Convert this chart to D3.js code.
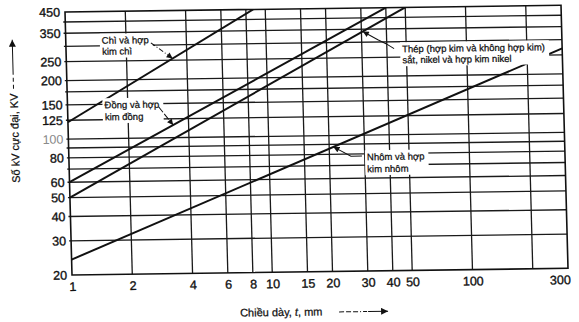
<!DOCTYPE html>
<html>
<head>
<meta charset="utf-8">
<script src="https://cdn.jsdelivr.net/npm/d3@7"></script>
<style>
  html, body { margin: 0; padding: 0; background: #fff; }
  svg { display: block; }
  text { stroke: #111; stroke-width: 0.25px; }
  .tick text { font-family: 'Liberation Sans Narrow', 'Arial Narrow', 'Liberation Sans', Arial, sans-serif; font-size: 12.5px; fill: #111; stroke-width: 0.35px; }
  .note { font-family: 'Liberation Sans', Arial, sans-serif; font-size: 9.5px; fill: #111; }
  .note.narrow { font-family: 'Liberation Sans Narrow', 'Arial Narrow', 'Liberation Sans', Arial, sans-serif; font-size: 9.5px; }
  .title { font-family: 'Liberation Sans', Arial, sans-serif; font-size: 11px; fill: #111; }
</style>
</head>
<body>
<svg id="chart" width="579" height="322"></svg>
<script>
// Plate thickness t (mm): labelled ticks and vertical grid rules
const thicknessTicks = [1, 2, 4, 6, 8, 10, 15, 20, 30, 40, 50, 100, 300];
const thicknessGrid  = [2, 4, 6, 8, 10, 15, 20, 30, 40, 50, 100, 200];

// Maximum tube voltage (kV): labelled ticks and horizontal grid rules
const kvTicks = [20, 30, 40, 50, 60, 80, 100, 125, 150, 200, 250, 350, 450];
const kvGrid  = [30, 40, 50, 60, 70, 80, 90, 100, 125, 150, 175, 200, 250, 300, 350, 400];

// Each material is a straight line on log-log paper: end points (t mm, kV)
const leadT     = [1, 8.7];  const leadKV     = [122, 450];
const copperT   = [1, 40];   const copperKV   = [60, 450];
const steelT    = [1, 50];   const steelKV    = [50, 450];
const aluminiumT = [1, 300]; const aluminiumKV = [24, 270];

const materials = [
  { name: "lead",      t: leadT,      kv: leadKV },
  { name: "copper",    t: copperT,    kv: copperKV },
  { name: "steel",     t: steelT,     kv: steelKV },
  { name: "aluminium", t: aluminiumT, kv: aluminiumKV }
];

const svg = d3.select("#chart");

const x = d3.scaleLog().domain([1, 300]).range([72, 568]);
const y = d3.scaleLog().domain([20, 450]).range([275, 12]);

// arrow heads
const defs = svg.append("defs");
defs.append("marker")
  .attr("id", "head").attr("viewBox", "0 0 10 10")
  .attr("refX", 10).attr("refY", 5)
  .attr("markerWidth", 7).attr("markerHeight", 6)
  .attr("markerUnits", "userSpaceOnUse")
  .attr("orient", "auto-start-reverse")
  .append("path").attr("d", "M0,0 L10,5 L0,10 Z").attr("fill", "#111");
defs.append("marker")
  .attr("id", "bighead").attr("viewBox", "0 0 10 10")
  .attr("refX", 10).attr("refY", 5)
  .attr("markerWidth", 10).attr("markerHeight", 7)
  .attr("markerUnits", "userSpaceOnUse")
  .attr("orient", "auto-start-reverse")
  .append("path").attr("d", "M0,0 L10,5 L0,10 Z").attr("fill", "#111");
defs.append("clipPath").attr("id", "plotClip")
  .append("rect")
  .attr("x", x(1)).attr("y", y(450))
  .attr("width", x(300) - x(1)).attr("height", y(20) - y(450));

// the printed plate sits slightly askew on the page
const plate = svg.append("g")
  .attr("transform", "matrix(1,-0.0135,0.0266,1,-7.315,0.972)");

// grid rules
const grid = plate.append("g").attr("stroke", "#1a1a1a").attr("stroke-width", 1.3);
grid.selectAll("line.v").data(thicknessGrid).join("line")
  .attr("class", "v")
  .attr("x1", d => x(d)).attr("x2", d => x(d))
  .attr("y1", y(20)).attr("y2", y(450));
grid.selectAll("line.h").data(kvGrid).join("line")
  .attr("class", "h")
  .attr("x1", x(1) - 2).attr("x2", x(300))
  .attr("y1", d => y(d)).attr("y2", d => y(d));
plate.append("rect")
  .attr("x", x(1)).attr("y", y(450))
  .attr("width", x(300) - x(1)).attr("height", y(20) - y(450))
  .attr("fill", "none").attr("stroke", "#111").attr("stroke-width", 1.6);

// axes (labels only; the frame is drawn above)
const xAxis = plate.append("g")
  .attr("transform", `translate(0,${y(20)})`)
  .call(d3.axisBottom(x).tickValues(thicknessTicks).tickFormat(d3.format("d"))
        .tickSize(0).tickPadding(7));
xAxis.select(".domain").remove();
xAxis.selectAll(".tick text").filter(d => d === 300)
  .attr("text-anchor", "end").attr("dx", 2);

const yAxis = plate.append("g")
  .attr("transform", `translate(${x(1)},0)`)
  .call(d3.axisLeft(y).tickValues(kvTicks).tickFormat(d3.format("d"))
        .tickSize(0).tickPadding(5));
yAxis.select(".domain").remove();
yAxis.selectAll(".tick text").filter(d => d === 100)
  .style("fill", "#8a8a8a").style("stroke", "none");

// material lines
const line = d3.line().x(d => x(d[0])).y(d => y(d[1]));
plate.append("g").attr("clip-path", "url(#plotClip)")
  .selectAll("path").data(materials).join("path")
  .attr("d", m => line(m.t.map((t, i) => [t, m.kv[i]])))
  .attr("fill", "none").attr("stroke", "#111").attr("stroke-width", 2);

// point on a material line at thickness t (straight in log-log space)
function pointOn(m, t) {
  const f = (Math.log(t) - Math.log(m.t[0])) / (Math.log(m.t[1]) - Math.log(m.t[0]));
  const kv = Math.exp(Math.log(m.kv[0]) + f * (Math.log(m.kv[1]) - Math.log(m.kv[0])));
  return [x(t), y(kv)];
}
const byName = Object.fromEntries(materials.map(m => [m.name, m]));

// labels with a white ground that interrupts the grid
const notes = plate.append("g");
function note(lines, x0, y0, cls, gap) {
  const g = notes.append("g");
  const txt = g.append("text").attr("class", cls);
  lines.forEach((s, i) => {
    txt.append("tspan").attr("x", x0).attr("y", y0 + i * gap).attr("dy", "0.35em").text(s);
  });
  const b = txt.node().getBBox();
  g.insert("rect", "text")
    .attr("x", b.x - 2).attr("y", b.y - 1)
    .attr("width", b.width + 6).attr("height", b.height + 2)
    .attr("fill", "#fff");
}
note(["Chì và hợp", "kim chì"], 108, 41, "note", 11);
note(["Đồng và hợp", "kim đồng"], 109, 105.5, "note", 12);
note(["Thép (hợp kim và không hợp kim)", "sắt, nikel và hợp kim nikel"], 408, 53.5, "note narrow", 11);
note(["Nhôm và hợp", "kim nhôm"], 370, 161, "note", 12);

// leaders
const leaders = plate.append("g").attr("fill", "none").attr("stroke", "#111").attr("stroke-width", 1);
const pLead = pointOn(byName.lead, 3.4);
leaders.append("path")
  .attr("d", `M157,44 L${pLead[0]},${pLead[1]}`)
  .attr("stroke-dasharray", "5,2,1,2")
  .attr("marker-end", "url(#head)");
const pCu = pointOn(byName.copper, 3.35);
leaders.append("path")
  .attr("d", `M163,108 L${pCu[0]},${pCu[1]}`)
  .attr("stroke-dasharray", "7,2")
  .attr("marker-end", "url(#head)");
const pFe = pointOn(byName.steel, 30.5);
leaders.append("path")
  .attr("d", `M${pFe[0]},${pFe[1]} L384,44 L392,48 L400,53`)
  .attr("marker-start", "url(#head)");
const pAl = pointOn(byName.aluminium, 21);
leaders.append("path")
  .attr("d", `M${pAl[0]},${pAl[1]} L354,160 L365,160`)
  .attr("marker-start", "url(#head)");

// axis titles with their arrows
const xt = plate.append("text").attr("class", "title")
  .attr("x", 239).attr("y", 315).attr("dy", "0.35em");
xt.append("tspan").text("Chiều dày, ");
xt.append("tspan").attr("font-style", "italic").text("t");
xt.append("tspan").text(", mm");
plate.append("line")
  .attr("x1", 338).attr("x2", 387).attr("y1", 315.5).attr("y2", 315.5)
  .attr("stroke", "#111").attr("stroke-width", 1)
  .attr("stroke-dasharray", "5,2,5,2,5,2,1,2,4,1,20")
  .attr("marker-end", "url(#bighead)");

plate.append("text").attr("class", "title")
  .attr("transform", "translate(18.5,137.5) rotate(-90)")
  .attr("text-anchor", "middle").attr("dy", "0.35em")
  .text("Số kV cực đại, KV");
plate.append("line")
  .attr("x1", 18.5).attr("x2", 18.5).attr("y1", 88).attr("y2", 39)
  .attr("stroke", "#111").attr("stroke-width", 1)
  .attr("stroke-dasharray", "4,3,4,3,30")
  .attr("marker-end", "url(#bighead)");
</script>
</body>
</html>
